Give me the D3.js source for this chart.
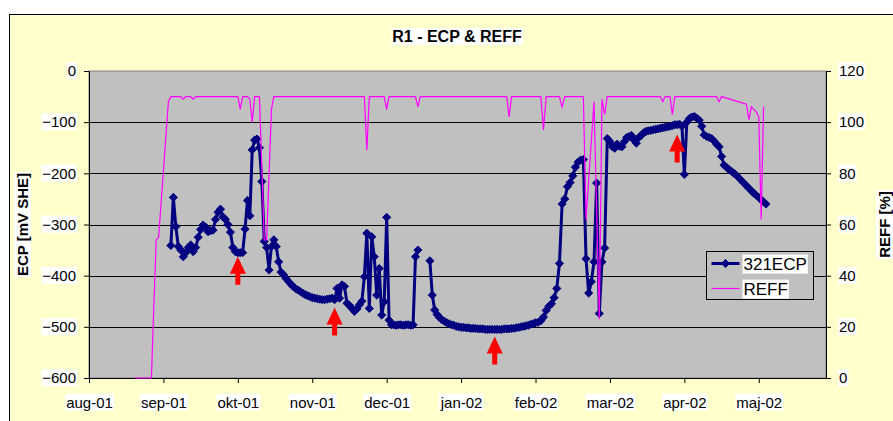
<!DOCTYPE html>
<meta charset="utf-8">
<style>
body { margin: 0; background: #fff; }
text { font-family: 'Liberation Sans', Arial, sans-serif; }
</style>
<body>
<div id="chart"></div>
<script src="https://d3js.org/d3.v7.min.js"></script>
<script>
// x axis: one label per month, months are equally spaced (like the Excel axis)
const monthLabels = ["aug-01", "sep-01", "okt-01", "nov-01", "dec-01", "jan-02", "feb-02", "mar-02", "apr-02", "maj-02"];
const axisStart = "2001-08-01", axisEnd = "2002-05-29";
const ecpTicks = [-600, -500, -400, -300, -200, -100, 0];
const reffTicks = [0, 20, 40, 60, 80, 100, 120];

const ecpDates = [
  "2001-09-04","2001-09-05","2001-09-06","2001-09-07","2001-09-08","2001-09-09","2001-09-10","2001-09-11","2001-09-12","2001-09-13","2001-09-14","2001-09-15","2001-09-16","2001-09-17","2001-09-18","2001-09-19","2001-09-20","2001-09-21","2001-09-22","2001-09-23","2001-09-24","2001-09-25","2001-09-26","2001-09-27","2001-09-28","2001-09-29","2001-09-30",
  "2001-10-01","2001-10-02","2001-10-03","2001-10-04","2001-10-05","2001-10-06","2001-10-07","2001-10-08","2001-10-09","2001-10-10","2001-10-11","2001-10-12","2001-10-13","2001-10-14","2001-10-15","2001-10-16","2001-10-17","2001-10-18","2001-10-19","2001-10-20","2001-10-21","2001-10-22","2001-10-23","2001-10-24","2001-10-25","2001-10-26","2001-10-27","2001-10-28","2001-10-29","2001-10-30","2001-10-31",
  "2001-11-01","2001-11-02","2001-11-03","2001-11-04","2001-11-05","2001-11-06","2001-11-07","2001-11-08","2001-11-09","2001-11-10","2001-11-11","2001-11-12","2001-11-13","2001-11-14","2001-11-15","2001-11-16","2001-11-17","2001-11-18","2001-11-19","2001-11-20","2001-11-21","2001-11-22","2001-11-23","2001-11-24","2001-11-25","2001-11-26","2001-11-27","2001-11-28","2001-11-29","2001-11-30",
  "2001-12-01","2001-12-02","2001-12-03","2001-12-04","2001-12-05","2001-12-06","2001-12-07","2001-12-08","2001-12-09","2001-12-10","2001-12-11","2001-12-12","2001-12-13","2001-12-14","2001-12-16","2001-12-19","2001-12-20","2001-12-21","2001-12-22","2001-12-23","2001-12-24","2001-12-25","2001-12-26","2001-12-27","2001-12-28","2001-12-29","2001-12-30","2001-12-31",
  "2002-01-01","2002-01-02","2002-01-03","2002-01-04","2002-01-05","2002-01-06","2002-01-07","2002-01-08","2002-01-09","2002-01-10","2002-01-11","2002-01-12","2002-01-13","2002-01-14","2002-01-15","2002-01-16","2002-01-17","2002-01-18","2002-01-19","2002-01-20","2002-01-21","2002-01-22","2002-01-23","2002-01-24","2002-01-25","2002-01-26","2002-01-27","2002-01-28","2002-01-29","2002-01-30","2002-01-31",
  "2002-02-01","2002-02-02","2002-02-03","2002-02-04","2002-02-05","2002-02-06","2002-02-07","2002-02-08","2002-02-09","2002-02-10","2002-02-11","2002-02-12","2002-02-13","2002-02-14","2002-02-15","2002-02-16","2002-02-17","2002-02-18","2002-02-19","2002-02-20","2002-02-21","2002-02-22","2002-02-23","2002-02-24","2002-02-25","2002-02-26","2002-02-27","2002-02-28",
  "2002-03-01","2002-03-02","2002-03-03","2002-03-04","2002-03-05","2002-03-06","2002-03-07","2002-03-08","2002-03-09","2002-03-10","2002-03-11","2002-03-12","2002-03-13","2002-03-14","2002-03-15","2002-03-16","2002-03-17","2002-03-18","2002-03-19","2002-03-20","2002-03-21","2002-03-22","2002-03-23","2002-03-24","2002-03-25","2002-03-26","2002-03-27","2002-03-28","2002-03-29","2002-03-30","2002-03-31",
  "2002-04-01","2002-04-02","2002-04-03","2002-04-04","2002-04-05","2002-04-06","2002-04-07","2002-04-08","2002-04-09","2002-04-10","2002-04-11","2002-04-12","2002-04-13","2002-04-14","2002-04-15","2002-04-16","2002-04-17","2002-04-18","2002-04-19","2002-04-20","2002-04-21","2002-04-22","2002-04-23","2002-04-24","2002-04-25","2002-04-26","2002-04-27","2002-04-28","2002-04-29","2002-04-30",
  "2002-05-01","2002-05-02","2002-05-03","2002-05-04"
];
const ecpValues = [
  -341,-247,-304,-343,-350,-363,-355,-345,-340,-353,-345,-325,-310,-301,-305,-314,-312,-311,-290,-276,-270,-285,-290,-300,-315,-345,-353,
  -355,-355,-355,-309,-253,-283,-154,-135,-133,-150,-216,-333,-345,-389,-343,-330,-343,-373,-393,-398,-405,-411,-416,-421,-425,-428,-431,-434,-437,-439,-441,
  -443,-444,-445,-446,-447,-447,-446,-445,-444,-447,-425,-444,-418,-421,-454,-458,-464,-470,-465,-457,-450,-402,-317,-464,-324,-363,-438,-386,-477,-451,
  -286,-487,-496,-496,-497,-496,-496,-497,-496,-496,-497,-496,-363,-350,null,-371,-438,-467,-476,-482,-486,-489,-492,-494,-496,-497,-499,-500,
  -501,-501,-502,-502,-503,-503,-503,-504,-504,-504,-505,-505,-505,-505,-505,-505,-505,-505,-504,-504,-504,-503,-503,-502,-501,-500,-499,-498,-497,-495,-494,
  -492,-491,-488,-481,-468,-460,-455,-443,-425,-376,-260,-250,-226,-218,-205,-188,-178,-174,-173,-367,-434,-412,-373,-219,-474,-373,-346,-132,
  -138,-148,-151,-143,-147,-148,-138,-130,-128,-126,-135,-141,-130,-126,-121,-118,-117,-116,-115,-114,-113,-112,-111,-110,-109,-108,-107,-105,-105,-104,-108,
  -202,-100,-93,-90,-89,-92,-96,-108,-125,-128,-130,-132,-137,-143,-148,-167,-184,-188,-193,-196,-200,-204,-209,-214,-219,-224,-229,-234,-239,-243,
  -247,-252,-256,-260
];

// REFF [%]
const reffDates = [
  "2001-08-20","2001-08-27","2001-08-28","2001-08-29","2001-08-30","2001-09-03","2001-09-04","2001-09-08","2001-09-09","2001-09-10","2001-09-12","2001-09-13","2001-09-14",
  "2001-10-01","2001-10-02","2001-10-03","2001-10-05","2001-10-06","2001-10-07","2001-10-08","2001-10-10","2001-10-12","2001-10-13","2001-10-15","2001-10-16",
  "2001-11-22","2001-11-23","2001-11-24","2001-11-30","2001-12-01","2001-12-02","2001-12-13","2001-12-14","2001-12-15",
  "2002-01-20","2002-01-21","2002-01-22","2002-02-03","2002-02-04","2002-02-05","2002-02-10","2002-02-11","2002-02-12",
  "2002-02-19","2002-02-20","2002-02-23","2002-02-25","2002-02-26","2002-02-27","2002-02-28",
  "2002-03-22","2002-03-23","2002-03-24","2002-03-26","2002-03-27","2002-03-28",
  "2002-04-14","2002-04-15","2002-04-16","2002-04-26","2002-04-27","2002-04-28","2002-04-29","2002-04-30","2002-05-01","2002-05-02","2002-05-03"
];
const reffValues = [
  0,0,28,54,55,108,110,110,109,110,110,109,110,
  110,105,110,110,109,100,110,110,54,54,105,110,
  110,89,110,110,105,110,110,106,110,
  110,102,110,110,97,110,110,106,110,
  110,62,108,23,109,103,110,
  110,108,110,110,103,110,
  110,108,110,107,101,106,105,104,102,62,106
];

// red arrows: date and ECP level of the tip
const arrowDates = ["2001-10-01", "2001-11-10", "2002-01-15", "2002-03-29"];
const arrowTips = [-363, -462, -519, -124];

const margin = {top: 71, right: 67, bottom: 43, left: 89},
  width = 893 - margin.left - margin.right,
  height = 421 - margin.top - margin.bottom;

const parse = d3.utcParse("%Y-%m-%d");
const start = parse(axisStart);
function monthPos(s) {
  const d = parse(s), m0 = d3.utcMonth.floor(d), m1 = d3.utcMonth.offset(m0, 1);
  return d3.utcMonth.count(start, m0) + (d - m0) / (m1 - m0);
}

const x = d3.scaleLinear().domain([0, monthPos(axisEnd)]).range([0, width]);
const yL = d3.scaleLinear().domain([-600, 0]).range([height, 0]);
const yR = d3.scaleLinear().domain([0, 120]).range([height, 0]);

const svg = d3.select("#chart").append("svg")
  .attr("width", 893).attr("height", 421);

svg.append("rect")
  .attr("x", 9.5).attr("y", 14.5).attr("width", 900).attr("height", 420)
  .attr("fill", "#FFFFCC").attr("stroke", "#000");

const g = svg.append("g")
  .attr("transform", "translate(" + margin.left + "," + margin.top + ")");

g.append("rect")
  .attr("width", width).attr("height", height)
  .attr("fill", "#C0C0C0").attr("stroke", "#808080");

g.append("g").selectAll("line")
  .data(ecpTicks.filter(d => d > -600 && d < 0))
  .enter().append("line")
  .attr("x1", 0).attr("x2", width)
  .attr("y1", d => Math.round(yL(d)) + 0.5)
  .attr("y2", d => Math.round(yL(d)) + 0.5)
  .attr("stroke", "#000");

function styleAxis(ax) {
  ax.attr("font-family", "'Liberation Sans', Arial, sans-serif").attr("font-size", 15);
  ax.select(".domain").attr("stroke", "#000");
  ax.selectAll(".tick line").attr("stroke", "#000");
  ax.selectAll(".tick text").attr("fill", "#000");
}

const axL = g.append("g")
  .call(d3.axisLeft(yL).tickValues(ecpTicks).tickSizeInner(5).tickSizeOuter(0).tickPadding(8));
styleAxis(axL);

const axR = g.append("g")
  .attr("transform", "translate(" + width + ",0)")
  .call(d3.axisRight(yR).tickValues(reffTicks).tickSizeInner(5).tickSizeOuter(0).tickPadding(8));
styleAxis(axR);

const axB = g.append("g")
  .attr("transform", "translate(0," + height + ")")
  .call(d3.axisBottom(x).tickValues(d3.range(monthLabels.length))
    .tickFormat(i => monthLabels[i]).tickSizeInner(5).tickSizeOuter(0).tickPadding(14));
styleAxis(axB);

// ECP series
const ecp = ecpDates.map((d, i) => ({date: d, v: ecpValues[i]}));
const ecpLine = d3.line()
  .defined(d => d.v != null)
  .x(d => x(monthPos(d.date)))
  .y(d => yL(d.v));

g.append("path")
  .datum(ecp)
  .attr("fill", "none")
  .attr("stroke", "#000080")
  .attr("stroke-width", 3)
  .attr("stroke-linejoin", "round")
  .attr("d", ecpLine);

const diamond = d3.symbol().type(d3.symbolDiamond2 || d3.symbolDiamond).size(42);

g.append("g").selectAll("path")
  .data(ecp.filter(d => d.v != null))
  .enter().append("path")
  .attr("transform", d => "translate(" + x(monthPos(d.date)) + "," + yL(d.v) + ")")
  .attr("d", diamond)
  .attr("fill", "#000080")
  .attr("stroke", "#000080")
  .attr("stroke-width", 1);

// REFF series (secondary axis)
const reff = reffDates.map((d, i) => ({date: d, v: reffValues[i]}));
g.append("path")
  .datum(reff)
  .attr("fill", "none")
  .attr("stroke", "#FF00FF")
  .attr("stroke-width", 1.2)
  .attr("d", d3.line().x(d => x(monthPos(d.date))).y(d => yR(d.v)));

// arrows
g.append("g").selectAll("path")
  .data(arrowDates.map((d, i) => ({date: d, v: arrowTips[i]})))
  .enter().append("path")
  .attr("transform", d => "translate(" + x(monthPos(d.date)) + "," + yL(d.v) + ")")
  .attr("d", "M0,0L8,17L2.5,17L2.5,28L-2.5,28L-2.5,17L-8,17Z")
  .attr("fill", "#FF0000");

// legend
const leg = g.append("g").attr("transform", "translate(" + (width - 119.5) + "," + 180.5 + ")");
leg.append("rect").attr("width", 107).attr("height", 48)
  .attr("fill", "#C0C0C0").attr("stroke", "#000");
leg.append("line").attr("x1", 5).attr("x2", 33).attr("y1", 12).attr("y2", 12)
  .attr("stroke", "#000080").attr("stroke-width", 3);
leg.append("path").attr("transform", "translate(19,12)").attr("d", diamond)
  .attr("fill", "#000080").attr("stroke", "#000080");
leg.append("line").attr("x1", 5).attr("x2", 33).attr("y1", 37).attr("y2", 37)
  .attr("stroke", "#FF00FF").attr("stroke-width", 1.2);
leg.selectAll("text.lg")
  .data(["321ECP", "REFF"])
  .enter().append("text")
  .attr("class", "lg")
  .attr("x", 37).attr("y", (d, i) => 12 + i * 25)
  .attr("dy", "0.36em")
  .style("font-size", "17px")
  .text(d => d);

// titles
svg.append("text")
  .attr("class", "title")
  .attr("x", 457).attr("y", 42)
  .attr("text-anchor", "middle")
  .style("font-size", "16px").style("font-weight", "bold")
  .text("R1 - ECP & REFF");

svg.append("g").attr("transform", "translate(28," + (margin.top + height / 2) + ") rotate(-90)")
  .append("text").attr("text-anchor", "middle")
  .style("font-size", "15px").style("font-weight", "bold")
  .text("ECP [mV SHE]");

svg.append("g").attr("transform", "translate(890," + (margin.top + height / 2) + ") rotate(-90)")
  .append("text").attr("text-anchor", "middle")
  .style("font-size", "15px").style("font-weight", "bold")
  .text("REFF [%]");

// white boxes behind all texts, as in the original
svg.selectAll("text").each(function() {
  const b = this.getBBox();
  const t = this;
  d3.select(this.parentNode).insert("rect", () => t)
    .attr("x", b.x - 1).attr("y", b.y)
    .attr("width", b.width + 2).attr("height", b.height)
    .attr("transform", d3.select(t).attr("transform"))
    .attr("fill", "#fff");
});
</script>
</body>
